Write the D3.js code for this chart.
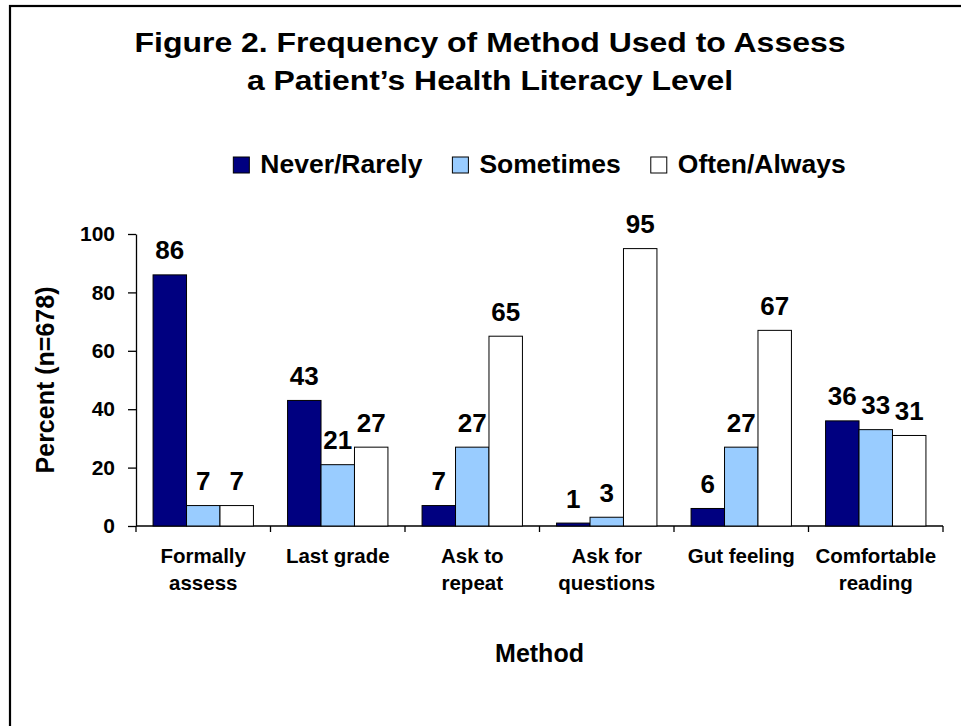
<!DOCTYPE html>
<meta charset="utf-8">
<style>
body, html {
  padding: 0;
  margin: 0;
  background: #fff;
}
text {
  font-family: "Liberation Sans", Arial, sans-serif;
  font-weight: bold;
  fill: #000;
}
.axis path, .axis line {
  stroke: #000;
  stroke-width: 1.3px;
}
.bar {
  stroke: #000;
  stroke-width: 1px;
}
</style>
<body>
<script src="https://d3js.org/d3.v7.min.js"></script>
<script>

var width = 961,
    height = 726

var titleLines = ["Figure 2. Frequency of Method Used to Assess", "a Patient\u2019s Health Literacy Level"]
var categories = ["Formally\nassess", "Last grade", "Ask to\nrepeat", "Ask for\nquestions", "Gut feeling", "Comfortable\nreading"]
var seriesNames = ["Never/Rarely", "Sometimes", "Often/Always"]
var seriesColors = ["#000080", "#99ccff", "#ffffff"]
var neverRarely = [86, 43, 7, 1, 6, 36]
var sometimes = [7, 21, 27, 3, 27, 33]
var oftenAlways = [7, 27, 65, 95, 67, 31]
var yTicks = [0, 20, 40, 60, 80, 100]

var seriesValues = [neverRarely, sometimes, oftenAlways]

var svg = d3.select("body").append("svg")
    .attr("width", width)
    .attr("height", height)

svg.append("rect")
    .attr("width", width)
    .attr("height", height)
    .attr("fill", "#fff")

// frame (right and bottom edges fall outside the picture)
svg.append("rect")
    .attr("x", 10)
    .attr("y", 6)
    .attr("width", width + 20)
    .attr("height", height + 20)
    .attr("fill", "none")
    .attr("stroke", "#000")
    .attr("stroke-width", 2.2)

// title
svg.selectAll(".title")
    .data(titleLines)
    .enter().append("text")
    .attr("class", "title")
    .attr("x", 490)
    .attr("y", function(d, i) { return 52 + i * 38 })
    .attr("text-anchor", "middle")
    .attr("font-size", 28)
    .attr("textLength", function(d, i) { return i ? 486 : 711 })
    .attr("lengthAdjust", "spacingAndGlyphs")
    .text(function(d) { return d })

var margin = {left: 136, right: 18, top: 234, bottom: 200}

var x0 = d3.scaleBand()
    .domain(categories)
    .range([margin.left, width - margin.right])
    .paddingInner(0)
    .paddingOuter(0)

var x1 = d3.scaleBand()
    .domain(seriesNames)
    .range([0, x0.bandwidth()])
    .paddingInner(0)
    .paddingOuter(0.51)

var y = d3.scaleLinear()
    .domain([0, 100])
    .range([height - margin.bottom, margin.top])

// y axis
var yAxis = svg.append("g")
    .attr("class", "axis")
    .attr("transform", "translate(" + margin.left + ",0)")
    .call(d3.axisLeft(y).tickValues(yTicks).tickSize(8).tickSizeOuter(0).tickPadding(13))

yAxis.selectAll("text")
    .attr("font-size", 21)
    .attr("font-family", "'Liberation Sans', Arial, sans-serif")
    .attr("font-weight", "bold")

// x axis line and category separators
var xAxis = svg.append("g")
    .attr("class", "axis")

xAxis.append("line")
    .attr("x1", x0.range()[0])
    .attr("x2", x0.range()[1])
    .attr("y1", y(0))
    .attr("y2", y(0))

var boundaries = categories.map(function(c) { return x0(c) }).concat([x0.range()[1]])

xAxis.selectAll(".sep")
    .data(boundaries)
    .enter().append("line")
    .attr("class", "sep")
    .attr("x1", function(d) { return d })
    .attr("x2", function(d) { return d })
    .attr("y1", y(0))
    .attr("y2", y(0) + 6)

// category labels
var catLabels = svg.selectAll(".cat")
    .data(categories)
    .enter().append("text")
    .attr("class", "cat")
    .attr("text-anchor", "middle")
    .attr("font-size", 20.5)

catLabels.selectAll("tspan")
    .data(function(d) { return d.split("\n").map(function(t) { return {cat: d, t: t} }) })
    .enter().append("tspan")
    .attr("x", function(d) { return x0(d.cat) + x0.bandwidth() / 2 })
    .attr("y", function(d, i) { return y(0) + 37 + i * 27 })
    .text(function(d) { return d.t })

// bars
var groups = svg.selectAll(".group")
    .data(categories)
    .enter().append("g")
    .attr("class", "group")
    .attr("transform", function(d) { return "translate(" + x0(d) + ",0)" })

groups.selectAll("rect")
    .data(function(d, ci) {
        return seriesNames.map(function(s, si) { return {s: s, si: si, v: seriesValues[si][ci]} })
    })
    .enter().append("rect")
    .attr("class", "bar")
    .attr("x", function(d) { return x1(d.s) })
    .attr("width", x1.bandwidth())
    .attr("y", function(d) { return y(d.v) })
    .attr("height", function(d) { return y(0) - y(d.v) })
    .attr("fill", function(d) { return seriesColors[d.si] })

groups.selectAll(".val")
    .data(function(d, ci) {
        return seriesNames.map(function(s, si) { return {s: s, v: seriesValues[si][ci]} })
    })
    .enter().append("text")
    .attr("class", "val")
    .attr("text-anchor", "middle")
    .attr("font-size", 26)
    .attr("x", function(d) { return x1(d.s) + x1.bandwidth() / 2 })
    .attr("y", function(d) { return y(d.v) - 15.5 })
    .text(function(d) { return d.v })

// axis titles
svg.append("text")
    .attr("text-anchor", "middle")
    .attr("font-size", 25)
    .attr("transform", "translate(54," + (y(0) + y(100)) / 2 + ") rotate(-90)")
    .text("Percent (n=678)")

svg.append("text")
    .attr("text-anchor", "middle")
    .attr("font-size", 25)
    .attr("x", (x0.range()[0] + x0.range()[1]) / 2)
    .attr("y", 662)
    .text("Method")

// legend, centred over the plot
var legend = svg.append("g")
var lx = 0
seriesNames.forEach(function(s, i) {
    var item = legend.append("g").attr("transform", "translate(" + lx + ",0)")
    item.append("rect")
        .attr("x", 0)
        .attr("y", 157)
        .attr("width", 16)
        .attr("height", 16)
        .attr("fill", seriesColors[i])
        .attr("stroke", "#000")
        .attr("stroke-width", 1)
    var t = item.append("text")
        .attr("x", 27)
        .attr("y", 173)
        .attr("font-size", 26.5)
        .text(s)
    lx += 27 + t.node().getComputedTextLength() + 30
})
var legendWidth = lx - 30
legend.attr("transform", "translate(" + ((x0.range()[0] + x0.range()[1]) / 2 - legendWidth / 2) + ",0)")

</script>
</body>
